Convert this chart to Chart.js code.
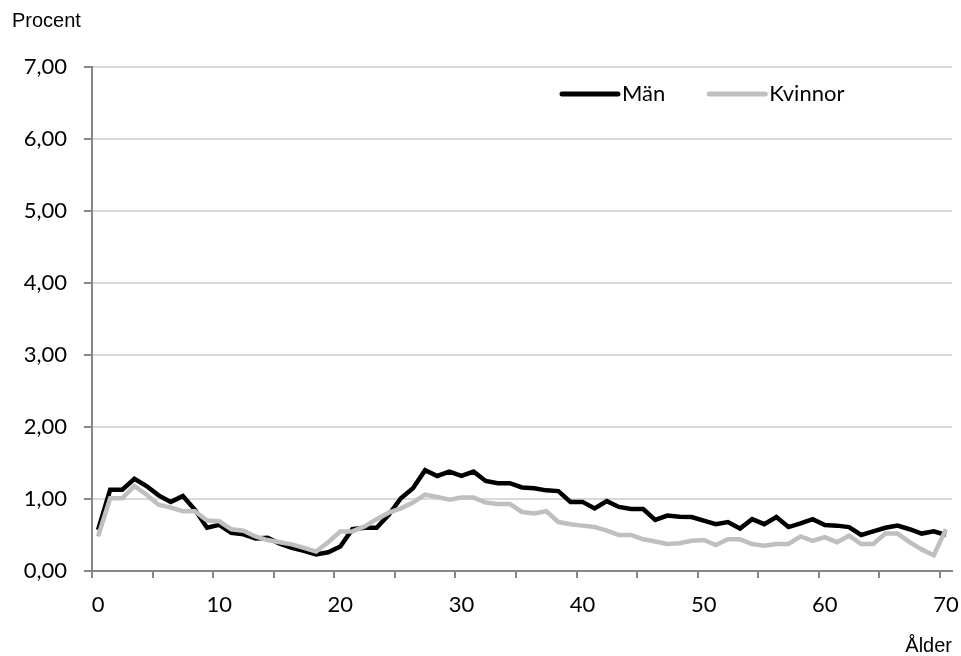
<!DOCTYPE html>
<html>
<head>
<meta charset="utf-8">
<script src="https://cdn.jsdelivr.net/npm/chart.js@4"></script>
<style>
  html, body { margin: 0; padding: 0; background: #fff; }
  canvas { display: block; }
</style>
</head>
<body>
<canvas id="chart" width="961" height="656"></canvas>
<script>
// ====== Data ======
const ages = [
    0, 1, 2, 3, 4, 5, 6, 7, 8, 9,
    10, 11, 12, 13, 14, 15, 16, 17, 18, 19,
    20, 21, 22, 23, 24, 25, 26, 27, 28, 29,
    30, 31, 32, 33, 34, 35, 36, 37, 38, 39,
    40, 41, 42, 43, 44, 45, 46, 47, 48, 49,
    50, 51, 52, 53, 54, 55, 56, 57, 58, 59,
    60, 61, 62, 63, 64, 65, 66, 67, 68, 69,
    70
];

const men = [
    0.57, 1.13, 1.13, 1.28, 1.18, 1.05, 0.96, 1.04, 0.85, 0.60,
    0.64, 0.53, 0.51, 0.45, 0.46, 0.38, 0.32, 0.28, 0.23, 0.26,
    0.34, 0.58, 0.60, 0.60, 0.78, 1.01, 1.15, 1.40, 1.32, 1.38,
    1.32, 1.38, 1.25, 1.22, 1.22, 1.16, 1.15, 1.12, 1.11, 0.96,
    0.96, 0.87, 0.97, 0.89, 0.86, 0.86, 0.71, 0.77, 0.755, 0.75,
    0.70, 0.65, 0.68, 0.59, 0.72, 0.65, 0.75, 0.61, 0.66, 0.72,
    0.64, 0.63, 0.61, 0.50, 0.55, 0.60, 0.63, 0.58, 0.52, 0.55,
    0.50
];

const women = [
    0.48, 1.01, 1.01, 1.18, 1.06, 0.92, 0.88, 0.83, 0.83, 0.70,
    0.69, 0.58, 0.56, 0.48, 0.43, 0.40, 0.37, 0.32, 0.27, 0.40,
    0.55, 0.55, 0.62, 0.72, 0.81, 0.87, 0.95, 1.06, 1.03, 0.99,
    1.02, 1.02, 0.95, 0.93, 0.93, 0.82, 0.80, 0.83, 0.68, 0.65,
    0.63, 0.61, 0.56, 0.50, 0.50, 0.44, 0.41, 0.375, 0.385, 0.42,
    0.43, 0.36, 0.44, 0.44, 0.375, 0.35, 0.375, 0.375, 0.48, 0.42,
    0.47, 0.40, 0.49, 0.375, 0.375, 0.52, 0.52, 0.40, 0.30, 0.22,
    0.58
];

const yTickLabels = ['0,00', '1,00', '2,00', '3,00', '4,00', '5,00', '6,00', '7,00'];

// ====== Styles ======
const axisGray = '#868686';
const gridGray = '#d9d9d9';
const labelFont = { family: 'Lato', size: 22 };

// legend drawn inside the plot area, as in the original
const lineLegend = {
    id: 'lineLegend',
    afterDraw(chart) {
        const { ctx, chartArea } = chart;
        let x = chartArea.right - 390;
        const y = chartArea.top + 27;
        ctx.save();
        ctx.font = '22px Lato';
        ctx.textBaseline = 'middle';
        ctx.textAlign = 'left';
        chart.data.datasets.forEach(ds => {
            ctx.strokeStyle = ds.borderColor;
            ctx.lineWidth = 5;
            ctx.lineCap = 'round';
            ctx.beginPath();
            ctx.moveTo(x, y);
            ctx.lineTo(x + 56, y);
            ctx.stroke();
            ctx.fillStyle = '#000';
            ctx.fillText(ds.label, x + 60, y);
            x += 60 + ctx.measureText(ds.label).width + 44;
        });
        ctx.restore();
    }
};

// ====== Chart ======
new Chart(document.getElementById('chart'), {
    type: 'line',
    data: {
        labels: ages,
        datasets: [
            {
                label: 'Män',
                data: men,
                borderColor: '#000000',
                backgroundColor: '#000000',
                borderWidth: 4.5,
                pointRadius: 0,
                tension: 0,
                order: 2
            },
            {
                label: 'Kvinnor',
                data: women,
                borderColor: '#bfbfbf',
                backgroundColor: '#bfbfbf',
                borderWidth: 4.5,
                pointRadius: 0,
                tension: 0,
                order: 1
            }
        ]
    },
    options: {
        responsive: false,
        animation: false,
        devicePixelRatio: 1,
        layout: { padding: { left: 12, right: 9, top: 0, bottom: 0 } },
        plugins: {
            legend: { display: false },
            tooltip: { enabled: false },
            title: {
                display: true,
                text: 'Procent',
                align: 'start',
                color: '#000',
                font: { family: 'Liberation Sans', size: 20, weight: 'normal', lineHeight: 1 },
                padding: { top: 11, bottom: 36 }
            }
        },
        scales: {
            x: {
                type: 'category',
                offset: true,
                afterFit: (scale) => {
                    scale.height = 85;
                    // keep the plot edges where the original has them
                    scale.paddingLeft = 0;
                    scale.paddingRight = 0;
                },
                grid: {
                    offset: true,
                    drawOnChartArea: false,
                    drawTicks: true,
                    tickLength: 7,
                    lineWidth: 2,
                    tickColor: (ctx) => (ctx.index % 5 === 0 && ctx.index <= 70) ? axisGray : 'rgba(0,0,0,0)'
                },
                border: { color: axisGray, width: 2 },
                ticks: {
                    autoSkip: false,
                    maxRotation: 0,
                    padding: 14,
                    color: '#000',
                    font: labelFont,
                    callback: (val, index) => index % 10 === 0 ? String(ages[index]) : ''
                },
                title: {
                    display: true,
                    text: 'Ålder',
                    align: 'end',
                    color: '#000',
                    font: { family: 'Liberation Sans', size: 20, lineHeight: 1 },
                    padding: { top: 0, bottom: 0 }
                }
            },
            y: {
                min: 0,
                max: 7,
                afterFit: (scale) => { scale.width = 80; },
                grid: {
                    color: gridGray,
                    lineWidth: 2,
                    tickColor: axisGray,
                    tickLength: 8
                },
                border: { color: axisGray, width: 2 },
                ticks: {
                    stepSize: 1,
                    padding: 17,
                    color: '#000',
                    font: labelFont,
                    callback: (v) => yTickLabels[v]
                }
            }
        }
    },
    plugins: [lineLegend]
});
</script>
</body>
</html>
